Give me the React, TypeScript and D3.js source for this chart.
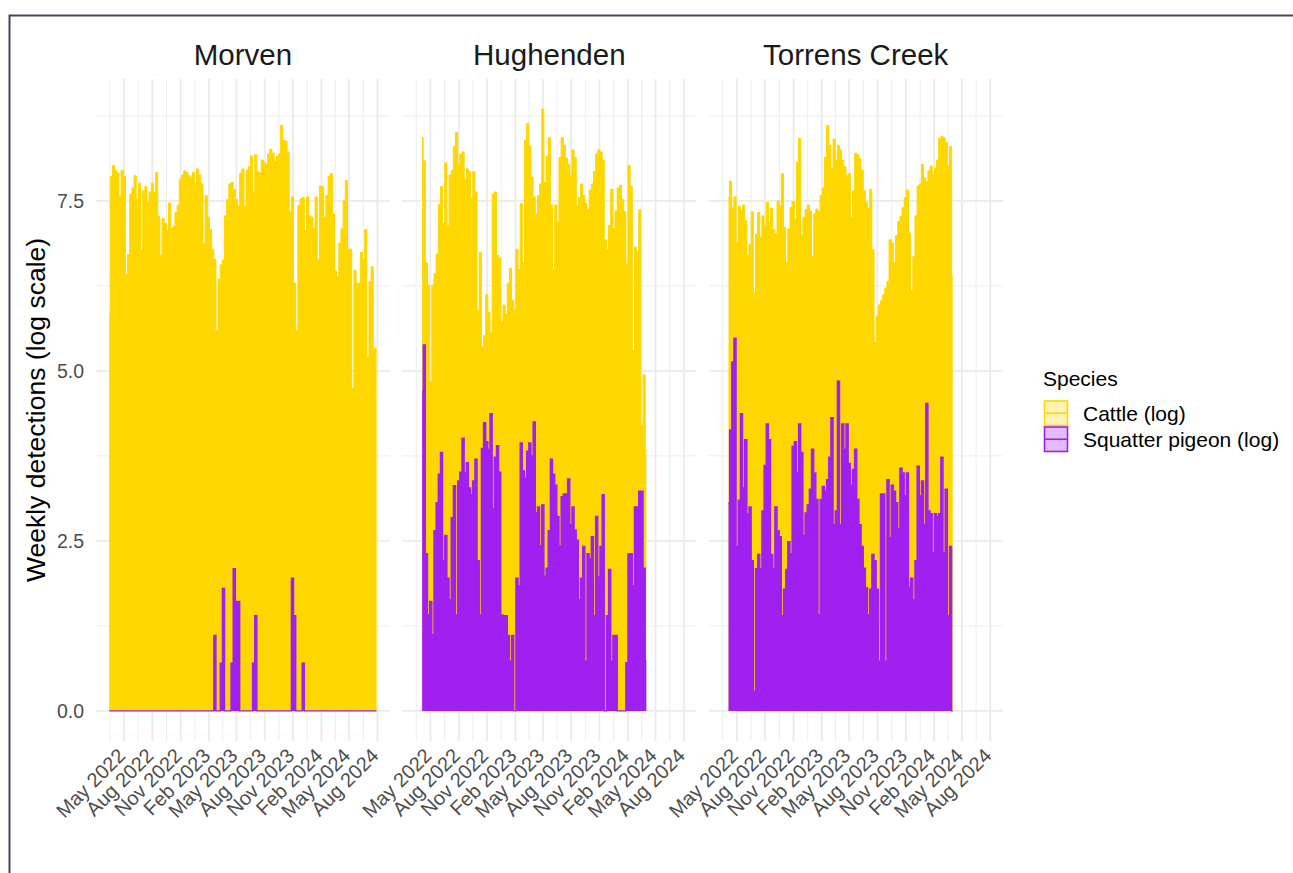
import React from "react";
import * as d3 from "d3";

// ---------- data ----------
const sites = ["Morven", "Hughenden", "Torrens Creek"];
const siteStartDates = ["2022-03-14", "2022-04-04", "2022-04-04"];

const morvenCattle = [
  5.84, 7.86, 8.02, 7.95, 7.91, 7.56, 7.95, 7.86, 6.42, 6.71,
  7.6, 7.69, 7.87, 7.52, 7.76, 6.78, 7.65, 7.71, 7.48, 7.63,
  7.76, 7.63, 7.92, 7.27, 6.7, 7.24, 7.17, 7.05, 7.47, 7.1,
  7.12, 7.33, 7.44, 7.82, 7.88, 7.94, 7.92, 7.87, 7.85, 7.92,
  7.76, 7.97, 7.88, 7.75, 6.87, 7.58, 7.26, 7.08, 6.79, 6.64,
  5.59, 6.35, 6.56, 6.63, 7.28, 7.52, 7.75, 7.77, 7.67, 7.52,
  7.43, 7.91, 7.97, 7.42, 7.95, 8.01, 8.16, 7.62, 8.18, 7.93,
  7.91, 8.1, 8.07, 8.04, 8.19, 8.26, 8.2, 8.08, 8.16, 8.19,
  8.61, 8.39, 8.38, 8.22, 7.34, 7.56, 6.29, 5.59, 7.43, 7.53,
  7.55, 7.06, 7.56, 7.28, 7.26, 7.09, 7.56, 6.64, 7.72, 7.71,
  7.26, 7.58, 7.86, 7.9, 7.31, 6.47, 6.38, 6.88, 7.09, 7.5,
  7.8, 6.79, 6.79, 4.74, 6.48, 6.29, 6.29, 6.74, 6.64, 7.08,
  5.2, 6.31, 6.53, 5.33, 5.33,
];
const morvenPigeon = [
  0, 0, 0, 0, 0, 0, 0, 0, 0, 0,
  0, 0, 0, 0, 0, 0, 0, 0, 0, 0,
  0, 0, 0, 0, 0, 0, 0, 0, 0, 0,
  0, 0, 0, 0, 0, 0, 0, 0, 0, 0,
  0, 0, 0, 0, 0, 0, 0, 0, 0, 1.11,
  0, 0, 0.7, 1.8, 0, 0, 0, 0.7, 2.09, 1.61,
  1.61, 0, 0, 0, 0, 0, 0, 0.7, 1.4, 0,
  0, 0, 0, 0, 0, 0, 0, 0, 0, 0,
  0, 0, 0, 0, 0, 1.95, 1.4, 0, 0, 0,
  0.7, 0, 0, 0, 0, 0, 0, 0, 0, 0,
  0, 0, 0, 0, 0, 0, 0, 0, 0, 0,
  0, 0, 0, 0, 0, 0, 0, 0, 0, 0,
  0, 0, 0, 0, 0,
];
const hughendenCattle = [
  8.43, 8.09, 6.59, 6.26, 4.84, 6.26, 6.43, 6.72, 7.45, 7.71,
  7.17, 8.06, 7.14, 7.88, 7.95, 8.3, 8.51, 8.04, 8.19, 8.22,
  7.81, 7.97, 7.93, 7.55, 7.93, 7.63, 5.89, 6.74, 5.36, 5.52,
  6.12, 5.86, 5.57, 7.6, 7.63, 6.7, 6.66, 5.72, 5.97, 5.84,
  6.29, 6.51, 6.04, 5.9, 6.79, 6.49, 7.46, 6.59, 8.39, 8.64,
  8.3, 7.85, 7.56, 7.31, 7.58, 7.75, 8.85, 7.77, 8.16, 8.43,
  7.44, 6.49, 7.44, 7.2, 8.14, 8.43, 8.32, 8.13, 8.04, 7.87,
  8.25, 8.14, 7.43, 7.55, 7.75, 7.58, 7.46, 7.37, 7.66, 7.75,
  7.93, 8.19, 8.25, 8.22, 8.1, 6.93, 6.79, 7.14, 7.67, 7.09,
  7.35, 7.69, 7.73, 7.52, 7.34, 6.56, 8.02, 7.71, 5.3, 6.82,
  6.76, 7.37, 4.2, 4.94, 3.83,
];
const hughendenPigeon = [
  4.7, 5.38, 2.31, 1.41, 1.61, 1.12, 2.65, 3.06, 3.48, 3.8,
  2.21, 2.58, 1.95, 1.63, 2.84, 3.31, 1.41, 3.38, 3.51, 4.01,
  3.5, 3.65, 3.28, 3.18, 3.38, 3.7, 2.21, 1.41, 3.86, 4.24,
  3.96, 3.85, 4.37, 2.97, 3.73, 3.9, 3.51, 1.41, 1.4, 1.4,
  1.11, 0.73, 1.11, 0, 1.95, 1.84, 3.94, 3.53, 3.42, 3.82,
  3.94, 3.75, 4.25, 2.91, 3.0, 2.43, 3.03, 1.98, 2.1, 2.65,
  3.7, 3.48, 3.32, 2.86, 2.43, 3.15, 3.19, 3.19, 3.41, 2.74,
  3.0, 2.66, 2.51, 1.63, 1.95, 2.42, 0.73, 2.31, 2.24, 2.56,
  1.4, 2.86, 1.97, 2.42, 3.18, 0, 1.4, 2.08, 0.73, 1.11,
  1.11, 0, 0, 0, 0, 0.71, 2.31, 2.31, 1.84, 3.0,
  3.0, 3.23, 3.23, 2.1, 0.73,
];
const torrensCattle = [
  7.55, 7.79, 7.4, 7.56, 6.89, 7.42, 7.36, 7.44, 7.21, 6.7,
  6.86, 7.34, 6.15, 7.01, 7.33, 6.96, 7.28, 7.11, 7.48, 7.19,
  7.39, 7.08, 7.02, 7.5, 7.43, 7.9, 7.11, 6.59, 7.09, 7.4,
  7.49, 7.23, 8.07, 8.42, 6.99, 7.26, 7.37, 7.44, 7.35, 6.68,
  7.31, 7.38, 7.34, 7.58, 7.69, 8.14, 8.61, 8.32, 7.98, 8.41,
  8.1, 8.32, 8.25, 8.1, 8.0, 7.87, 7.9, 7.26, 7.65, 8.2,
  8.18, 8.12, 7.95, 7.65, 7.48, 7.39, 7.67, 6.78, 5.42, 5.81,
  5.97, 6.03, 6.12, 6.22, 6.32, 6.93, 6.88, 6.59, 6.99, 7.2,
  7.27, 7.4, 7.55, 7.66, 7.03, 6.18, 6.68, 7.28, 7.72, 7.75,
  8.04, 7.84, 7.78, 7.94, 8.01, 7.88, 7.98, 8.1, 8.42, 8.45,
  8.43, 8.36, 8.02, 8.3, 6.4,
];
const torrensPigeon = [
  3.06, 4.13, 5.13, 5.48, 2.42, 3.1, 4.37, 3.28, 3.99, 2.9,
  3.0, 2.21, 0.29, 2.09, 2.3, 2.09, 2.94, 3.61, 4.22, 3.99,
  2.3, 2.09, 3.0, 2.65, 2.56, 1.4, 1.79, 2.08, 2.49, 2.31,
  3.89, 3.96, 3.5, 4.22, 3.8, 2.58, 2.91, 3.03, 3.26, 3.85,
  3.5, 3.11, 1.41, 3.11, 3.3, 3.23, 3.4, 3.73, 4.31, 2.74,
  2.94, 4.85, 2.74, 4.22, 3.85, 4.22, 3.64, 3.32, 3.55, 3.85,
  3.11, 2.74, 2.42, 2.1, 1.81, 1.41, 1.79, 2.3, 2.21, 1.79,
  0.73, 3.19, 3.19, 0.73, 3.4, 2.55, 3.32, 3.23, 3.06, 2.68,
  3.57, 3.5, 3.16, 3.5, 1.82, 1.95, 1.63, 2.21, 3.6, 3.16,
  3.38, 2.74, 4.52, 2.94, 2.9, 2.33, 2.9, 2.86, 2.9, 3.73,
  2.33, 3.26, 1.4, 2.42, 0,
];

const cattleBySite = [morvenCattle, hughendenCattle, torrensCattle];
const pigeonBySite = [morvenPigeon, hughendenPigeon, torrensPigeon];

const tickDates = [
  "2022-05-01", "2022-08-01", "2022-11-01", "2023-02-01", "2023-05-01",
  "2023-08-01", "2023-11-01", "2024-02-01", "2024-05-01", "2024-08-01",
];
const tickLabels = [
  "May 2022", "Aug 2022", "Nov 2022", "Feb 2023", "May 2023",
  "Aug 2023", "Nov 2023", "Feb 2024", "May 2024", "Aug 2024",
];
const yTicks = [0, 2.5, 5, 7.5];
const yTickLabels = ["0.0", "2.5", "5.0", "7.5"];
const yMinorTicks = [1.25, 3.75, 6.25, 8.75];
const speciesLabels = ["Cattle (log)", "Squatter pigeon (log)"];
const speciesColors = ["#FFD700", "#A020F0"];
const speciesKeyFills = ["#FFF3B3", "#E3BCFB"];

// ---------- layout ----------
const W = 1293;
const H = 873;
const panelLeft0 = 95.9;
const panelStep = 306.4;
const panelW = 294;
const panelTop = 79;
const panelBottom = 741;
const FONT = "'Liberation Sans', Arial, Helvetica, sans-serif";

type Pt = { date: Date; v: number };

const parse = d3.utcParse("%Y-%m-%d");

function buildSeries(start: string, vals: number[]): Pt[] {
  const s = parse(start) as Date;
  return vals.map((v, i) => ({ date: d3.utcDay.offset(s, 7 * i), v }));
}

export default function App() {
  const cattleSeries = sites.map((_, i) => buildSeries(siteStartDates[i], cattleBySite[i]));
  const pigeonSeries = sites.map((_, i) => buildSeries(siteStartDates[i], pigeonBySite[i]));

  const allDates = cattleSeries.flat().concat(pigeonSeries.flat()).map((d) => d.date);
  const [dMin, dMax] = d3.extent(allDates) as [Date, Date];
  const span = dMax.getTime() - dMin.getTime();
  const x = d3
    .scaleUtc()
    .domain([new Date(dMin.getTime() - 0.05 * span), new Date(dMax.getTime() + 0.05 * span)])
    .range([0, panelW]);

  const allVals = cattleSeries.flat().concat(pigeonSeries.flat()).map((d) => d.v);
  const [vMin, vMax] = d3.extent(allVals) as [number, number];
  const vSpan = vMax - vMin;
  const y = d3
    .scaleLinear()
    .domain([vMin - 0.05 * vSpan, vMax + 0.05 * vSpan])
    .range([panelBottom, panelTop]);

  const area = d3
    .area<Pt>()
    .x((d) => x(d.date))
    .y0(y(0))
    .y1((d) => y(d.v))
    .curve(d3.curveStep);
  const line = d3
    .line<Pt>()
    .x((d) => x(d.date))
    .y((d) => y(d.v))
    .curve(d3.curveStep);

  const majors = tickDates.map((t) => parse(t) as Date);
  const minors: Date[] = [];
  const firstGap = majors[1].getTime() - majors[0].getTime();
  minors.push(new Date(majors[0].getTime() - firstGap / 2));
  for (let i = 0; i < majors.length - 1; i++) {
    minors.push(new Date((majors[i].getTime() + majors[i + 1].getTime()) / 2));
  }

  return (
    <svg
      width={W}
      height={H}
      style={{ position: "absolute", left: 0, top: 0, background: "#fff" }}
      fontFamily={FONT}
    >
      <rect x={0} y={0} width={W} height={H} fill="#fff" />
      <rect x={9.5} y={15.5} width={1400} height={1000} fill="none" stroke="#4a4060" strokeWidth={2} />

      {sites.map((site, si) => {
        const left = panelLeft0 + si * panelStep;
        return (
          <g key={site} transform={`translate(${left},0)`}>
            {/* minor grid */}
            {yMinorTicks.map((t) => (
              <line key={"ym" + t} x1={0} x2={panelW} y1={y(t)} y2={y(t)} stroke="#EBEBEB" strokeWidth={0.9} />
            ))}
            {minors.map((d, i) => (
              <line key={"xm" + i} x1={x(d)} x2={x(d)} y1={panelTop} y2={panelBottom} stroke="#EBEBEB" strokeWidth={0.9} />
            ))}
            {/* major grid */}
            {yTicks.map((t) => (
              <line key={"yM" + t} x1={0} x2={panelW} y1={y(t)} y2={y(t)} stroke="#EBEBEB" strokeWidth={1.8} />
            ))}
            {majors.map((d, i) => (
              <line key={"xM" + i} x1={x(d)} x2={x(d)} y1={panelTop} y2={panelBottom} stroke="#EBEBEB" strokeWidth={1.8} />
            ))}

            {/* data */}
            <path d={area(cattleSeries[si]) || ""} fill={speciesColors[0]} />
            <path d={line(cattleSeries[si]) || ""} fill="none" stroke={speciesColors[0]} strokeWidth={1} />
            <path d={area(pigeonSeries[si]) || ""} fill={speciesColors[1]} />
            <path d={line(pigeonSeries[si]) || ""} fill="none" stroke={speciesColors[1]} strokeWidth={1.4} />

            {/* strip title */}
            <text x={panelW / 2} y={65} textAnchor="middle" fontSize={29.5} fill="#1A1A1A">
              {site}
            </text>

            {/* x tick labels */}
            {majors.map((d, i) => (
              <text
                key={"xl" + i}
                transform={`translate(${x(d) + 2.5},${757}) rotate(-45)`}
                textAnchor="end"
                fontSize={20}
                fill="#4D4D4D"
              >
                {tickLabels[i]}
              </text>
            ))}
          </g>
        );
      })}

      {/* y tick labels */}
      {yTicks.map((t, i) => (
        <text key={"yl" + t} x={84} y={y(t)} dy="0.35em" textAnchor="end" fontSize={19.5} fill="#4D4D4D">
          {yTickLabels[i]}
        </text>
      ))}

      {/* y axis title */}
      <text
        transform={`translate(45,${(panelTop + panelBottom) / 2}) rotate(-90)`}
        textAnchor="middle"
        fontSize={26.5}
        fill="#000"
      >
        Weekly detections (log scale)
      </text>

      {/* legend */}
      <text x={1043} y={386} fontSize={21} fill="#000">
        Species
      </text>
      {speciesLabels.map((lab, i) => {
        const ky = 401 + i * 26;
        return (
          <g key={lab}>
            <rect x={1044.5} y={ky} width={23} height={24.5} fill={speciesKeyFills[i]} stroke={speciesColors[i]} strokeWidth={1.6} />
            <line x1={1044.5} x2={1067.5} y1={ky + 12.25} y2={ky + 12.25} stroke={speciesColors[i]} strokeWidth={1.6} />
            <text x={1083} y={ky + 12.5} dy="0.35em" fontSize={21} fill="#000">
              {lab}
            </text>
          </g>
        );
      })}
    </svg>
  );
}
